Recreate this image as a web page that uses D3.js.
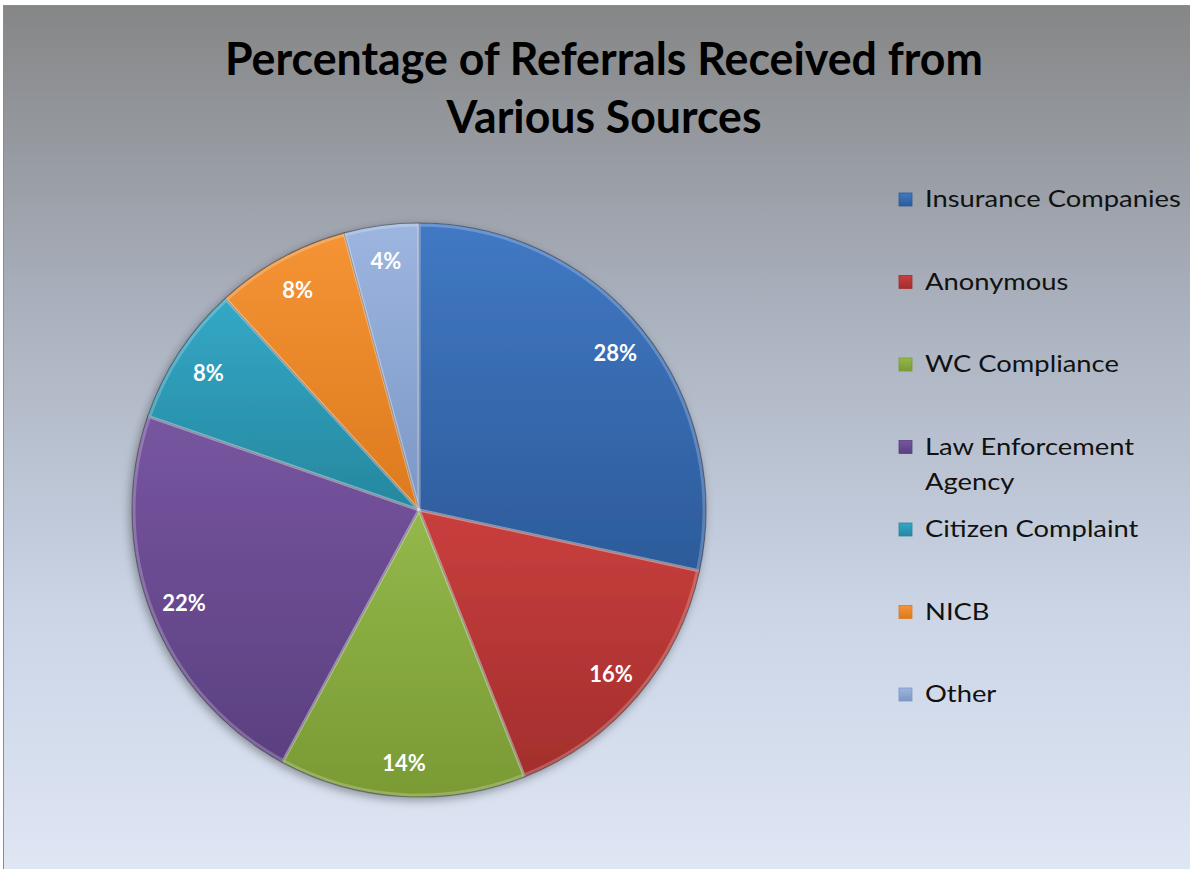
<!DOCTYPE html>
<html>
<head>
<meta charset="utf-8">
<script src="https://cdn.jsdelivr.net/npm/d3@7"></script>
<style>
  html, body { margin: 0; padding: 0; background: #fff; }
  svg { display: block; }
</style>
</head>
<body>
<div id="chart"></div>
<script>
// chart data (shares, labels rounded)
const categories = ["Insurance Companies", "Anonymous", "WC Compliance", "Law Enforcement Agency",
                    "Citizen Complaint", "NICB", "Other"];
const values = [28.4, 15.6, 13.9, 22.4, 7.9, 7.6, 4.2];
const titleLines = ["Percentage of Referrals Received from", "Various Sources"];

// slice colours: [light, dark]
const sliceColors = [
  ["#4179c4", "#2c5b9a"],
  ["#c93f3d", "#a32e2d"],
  ["#93b84a", "#7a9a34"],
  ["#7755a0", "#5b4080"],
  ["#33a8c6", "#26879f"],
  ["#f59435", "#dc7a1e"],
  ["#9db6e0", "#7c97c6"]
];

const W = 1190, H = 869;
const cx = 419, cy = 510, R = 287;

const svg = d3.select("#chart").append("svg")
  .attr("width", W)
  .attr("height", H);

const defs = svg.append("defs");

const bg = defs.append("linearGradient")
  .attr("id", "bg").attr("x1", 0).attr("y1", 0).attr("x2", 0).attr("y2", 1);
bg.append("stop").attr("offset", "0%").attr("stop-color", "#858686");
bg.append("stop").attr("offset", "35%").attr("stop-color", "#aab1be");
bg.append("stop").attr("offset", "70%").attr("stop-color", "#cbd5e6");
bg.append("stop").attr("offset", "100%").attr("stop-color", "#dfe6f4");

sliceColors.forEach((c, i) => {
  const g = defs.append("linearGradient")
    .attr("id", "slice" + i).attr("x1", 0).attr("y1", 0).attr("x2", 0).attr("y2", 1);
  g.append("stop").attr("offset", "0%").attr("stop-color", c[0]);
  g.append("stop").attr("offset", "100%").attr("stop-color", c[1]);
});

const shadow = defs.append("filter").attr("id", "shadow")
  .attr("x", "-20%").attr("y", "-20%").attr("width", "140%").attr("height", "140%");
shadow.append("feDropShadow")
  .attr("dx", -2).attr("dy", 3).attr("stdDeviation", 5)
  .attr("flood-color", "#000").attr("flood-opacity", 0.35);

// background panel
svg.append("rect")
  .attr("x", 3.5).attr("y", 5.5)
  .attr("width", W).attr("height", H)
  .attr("fill", "url(#bg)")
  .attr("stroke", "#8c8c8c");

// title
svg.append("g")
  .selectAll("text")
  .data(titleLines)
  .join("text")
    .attr("x", 604)
    .attr("y", (d, i) => 75 + i * 58)
    .attr("text-anchor", "middle")
    .attr("textLength", (d, i) => i === 0 ? 758 : 315)
    .attr("lengthAdjust", "spacingAndGlyphs")
    .style("font-family", "Lato, 'Open Sans', sans-serif")
    .style("font-weight", "bold")
    .style("font-size", "45px")
    .attr("fill", "#000")
    .text(d => d);

// pie
const pie = d3.pie().sort(null).value(d => d);
const arcs = pie(values);
const arc = d3.arc().innerRadius(0).outerRadius(R);
const labelArc = d3.arc().innerRadius(252).outerRadius(252);

const pieG = svg.append("g")
  .attr("transform", `translate(${cx},${cy})`);

pieG.append("g")
  .attr("filter", "url(#shadow)")
  .selectAll("path")
  .data(arcs)
  .join("path")
    .attr("d", arc)
    .attr("fill", (d, i) => `url(#slice${i})`)
    .attr("stroke", "rgba(60,60,70,0.55)")
    .attr("stroke-width", 1.2)
    .attr("stroke-linejoin", "round");

// soft bevel highlight on each slice
pieG.append("g")
  .selectAll("path")
  .data(arcs)
  .join("path")
    .attr("d", d3.arc().innerRadius(0).outerRadius(R - 2))
    .attr("fill", "none")
    .attr("stroke", "rgba(255,255,255,0.22)")
    .attr("stroke-width", 3);

pieG.append("g")
  .selectAll("text")
  .data(arcs)
  .join("text")
    .attr("transform", d => `translate(${labelArc.centroid(d)})`)
    .attr("text-anchor", "middle")
    .attr("dy", "0.42em")
    .style("font-family", "Lato, 'Open Sans', sans-serif")
    .style("font-weight", "bold")
    .style("font-size", "22px")
    .attr("fill", "#fff")
    .text(d => Math.round(d.data) + "%");

// legend
const legend = svg.append("g")
  .attr("transform", "translate(899,0)");

const rows = legend.selectAll("g")
  .data(categories)
  .join("g")
    .attr("transform", (d, i) => `translate(0,${199 + i * 82.5})`);

rows.append("rect")
  .attr("x", 0).attr("y", -6)
  .attr("width", 13).attr("height", 13)
  .attr("fill", (d, i) => `url(#slice${i})`)
  .attr("stroke", (d, i) => sliceColors[i][1])
  .attr("stroke-width", 0.8);

const stretch = 1.14; // Calibri-ish width
rows.append("text")
  .attr("x", 26)
  .attr("y", 8)
  .style("font-family", "Lato, 'Open Sans', sans-serif")
  .style("font-size", "24px")
  .attr("fill", "#111")
  .each(function (d) {
    const t = d3.select(this);
    const words = d.split(" ");
    let line = [];
    let tspan = t.append("tspan").attr("x", 26).attr("dy", 0);
    words.forEach(w => {
      line.push(w);
      tspan.text(line.join(" "));
      if (tspan.node().getComputedTextLength() * stretch > 256 && line.length > 1) {
        line.pop();
        tspan.text(line.join(" "));
        line = [w];
        tspan = t.append("tspan").attr("x", 26).attr("dy", 35).text(w);
      }
    });
    t.selectAll("tspan").each(function () {
      const len = this.getComputedTextLength();
      d3.select(this).attr("textLength", len * stretch).attr("lengthAdjust", "spacingAndGlyphs");
    });
  });
</script>
</body>
</html>
